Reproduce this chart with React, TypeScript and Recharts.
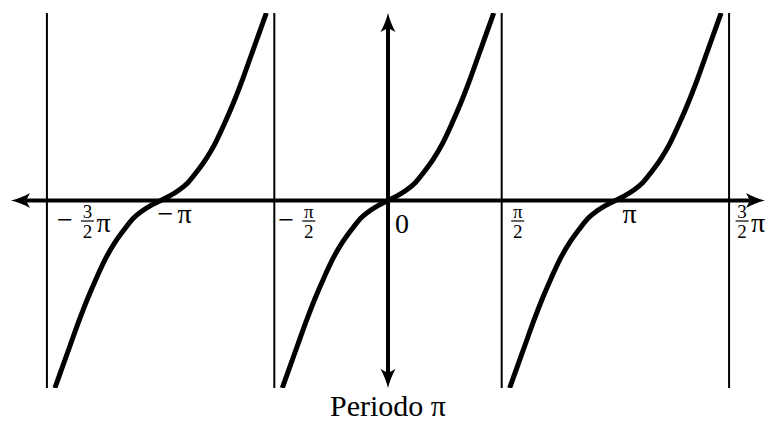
import React from "react";
import { LineChart, Line, XAxis, YAxis, ReferenceLine, ReferenceDot } from "recharts";

// x is measured in multiples of pi
const branchCenters = [-1, 0, 1];
const branchX = [-0.465, -0.44, -0.4, -0.36, -0.32, -0.28, -0.24, -0.2, -0.16, -0.12, -0.08, -0.04, 0,
  0.04, 0.08, 0.12, 0.16, 0.2, 0.24, 0.28, 0.32, 0.36, 0.4, 0.44, 0.465];
const branchY = [-4, -3.66, -3.12, -2.58, -2.08, -1.63, -1.22, -0.89, -0.62, -0.38, -0.22, -0.1, 0,
  0.1, 0.22, 0.38, 0.62, 0.89, 1.22, 1.63, 2.08, 2.58, 3.12, 3.66, 4];
const asymptotes = [-1.5, -0.5, 0.5, 1.5];
const tickValues = [-1.5, -1, -0.5, 0, 0.5, 1, 1.5];
const tickLabels = [
  { sign: true, num: "3", den: "2", tail: "π" },
  { sign: true, tail: "π" },
  { sign: true, num: "π", den: "2" },
  { tail: "0" },
  { num: "π", den: "2" },
  { tail: "π" },
  { num: "3", den: "2", tail: "π" },
];
const title = "Periodo π";

const FONT = "'Liberation Serif', 'DejaVu Serif', serif";
const labelShift = [11, -2, 5, 7, 9.5, 7, 6.5];

const branches = branchCenters.map((c) =>
  branchX.map((x, i) => ({ x: c + x, y: branchY[i] }))
);

const HEAD = "M0,0 C-6,-1.6 -13,-4 -19,-7.5 L-15,0 L-19,7.5 C-13,4 -6,1.6 0,0 Z";

const ArrowAxis = (props: any) => {
  const { x1, y1, x2, y2 } = props;
  const dx = x2 - x1;
  const dy = y2 - y1;
  const len = Math.hypot(dx, dy) || 1;
  const ux = dx / len;
  const uy = dy / len;
  const a1 = (Math.atan2(-uy, -ux) * 180) / Math.PI;
  const a2 = (Math.atan2(uy, ux) * 180) / Math.PI;
  const inset = 12;
  return (
    <g>
      <line
        x1={x1 + ux * inset}
        y1={y1 + uy * inset}
        x2={x2 - ux * inset}
        y2={y2 - uy * inset}
        stroke="#000"
        strokeWidth={4}
      />
      <path d={HEAD} transform={`translate(${x1},${y1}) rotate(${a1})`} fill="#000" />
      <path d={HEAD} transform={`translate(${x2},${y2}) rotate(${a2})`} fill="#000" />
    </g>
  );
};

const TickLabel = (props: any) => {
  const { cx, cy, spec, shift } = props;
  const parts: React.ReactNode[] = [];
  let x = cx + shift;
  if (spec.sign) {
    parts.push(
      <text key="s" x={x - 1} y={cy + (spec.den ? 28.5 : 22.5)} fontSize={28}>
        −
      </text>
    );
    x += spec.den ? 23 : 19;
  }
  if (spec.den) {
    const c = x + 6.5;
    parts.push(
      <text key="n" x={c} y={cy + 17.5} fontSize={19} textAnchor="middle">
        {spec.num}
      </text>,
      <line key="b" x1={c - 6.5} x2={c + 6.5} y1={cy + 20.5} y2={cy + 20.5} stroke="#000" strokeWidth={1.2} />,
      <text key="d" x={c} y={cy + 37} fontSize={19} textAnchor="middle">
        {spec.den}
      </text>
    );
    x = c + 9;
  }
  if (spec.tail) {
    const base = spec.den ? cy + 31 : spec.tail === "0" ? cy + 32 : cy + 22.5;
    parts.push(
      <text key="t" x={x} y={base} fontSize={28}>
        {spec.tail}
      </text>
    );
  }
  return (
    <g fill="#000" fontFamily={FONT}>
      {parts}
    </g>
  );
};

export default function App() {
  return (
    <div style={{ position: "absolute", left: 0, top: 0, width: 769, height: 421, background: "#fff" }}>
      <LineChart width={769} height={421} margin={{ top: 13, right: 4, left: 11, bottom: 0 }}>
        <XAxis
          type="number"
          dataKey="x"
          domain={[-1.658, 1.658]}
          allowDataOverflow
          height={33}
          axisLine={false}
          tickLine={false}
          tick={false}
          label={{
            value: title,
            position: "insideBottom",
            offset: 5,
            fill: "#000",
            fontSize: 30,
            fontFamily: FONT,
          }}
        />
        <YAxis type="number" domain={[-4, 4]} allowDataOverflow hide width={0} />
        {asymptotes.map((a) => (
          <ReferenceLine key={a} x={a} stroke="#000" strokeWidth={2} />
        ))}
        {branches.map((b, i) => (
          <Line
            key={i}
            data={b}
            dataKey="y"
            type="monotone"
            stroke="#000"
            strokeWidth={5}
            dot={false}
            activeDot={false}
            isAnimationActive={false}
          />
        ))}
        <ReferenceLine y={0} shape={(p: any) => <ArrowAxis {...p} />} />
        <ReferenceLine x={0} shape={(p: any) => <ArrowAxis {...p} />} />
        {tickValues.map((v, i) => (
          <ReferenceDot
            key={v}
            x={v}
            y={0}
            shape={(p: any) => <TickLabel {...p} spec={tickLabels[i]} shift={labelShift[i]} />}
          />
        ))}
      </LineChart>
    </div>
  );
}
